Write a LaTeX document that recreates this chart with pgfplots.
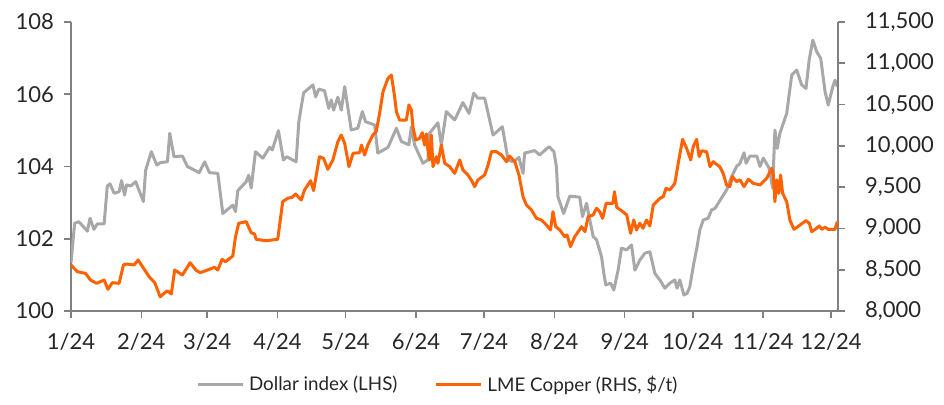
\documentclass[border=0pt]{standalone}
\usepackage{pgfplots}
\usepackage{pgfplotstable}
\pgfplotsset{compat=1.18}
\usepackage{fontspec}
\setmainfont{Lato}
\definecolor{inggray}{HTML}{A8A8A8}
\definecolor{ingorange}{HTML}{FF6200}
\definecolor{axgray}{HTML}{808080}
\definecolor{txt}{HTML}{262626}

\pgfplotstableread{
day dxy
0 101.33
1.6 102.43
3.5 102.47
7.2 102.21
8.4 102.57
10.1 102.26
11.6 102.41
14.6 102.41
16.0 103.46
17.2 103.52
19.0 103.26
21.2 103.30
22.3 103.61
23.6 103.21
24.5 103.49
26.3 103.46
28.5 103.58
31.9 103.03
32.9 103.90
35.4 104.41
37.8 104.04
39.5 104.11
42.5 104.13
43.5 104.92
45.4 104.27
49.1 104.29
51.3 104.00
56.5 103.83
58.9 104.13
61.0 103.83
64.7 103.81
66.9 102.70
71.3 102.93
72.5 102.75
73.5 103.33
77.2 103.58
78.3 103.76
79.4 103.40
81.3 104.41
84.5 104.23
87.5 104.53
88.7 104.46
91.4 104.99
93.6 104.18
95.1 104.27
99.2 104.13
100.4 105.24
102.5 106.04
106.6 106.26
107.8 105.93
109.2 106.14
111.7 106.10
113.6 105.61
114.7 105.84
115.7 105.56
117.6 105.92
119.1 105.56
120.6 106.21
123.5 105.01
126.4 105.06
128.4 105.52
129.8 105.24
133.8 105.15
135.2 104.37
139.7 104.53
143.4 105.06
145.6 104.69
148.9 104.60
150.0 105.10
151.4 104.60
155.1 104.09
157.3 104.18
158.0 104.92
161.7 105.21
163.2 104.60
165.4 105.52
169.1 105.29
172.7 105.77
175.4 105.47
177.5 106.03
179.3 105.89
182.3 105.89
186.0 104.87
190.1 105.10
192.6 104.18
194.8 104.13
197.4 104.25
199.2 103.81
199.9 104.37
204.3 104.44
206.5 104.32
210.7 104.55
212.8 104.41
213.9 104.00
214.6 103.16
217.1 102.70
219.8 103.18
224.2 103.15
225.4 102.61
227.2 102.98
227.9 102.75
230.1 102.06
231.6 101.97
233.8 101.50
234.8 101.04
235.7 100.72
237.8 100.77
239.2 100.58
241.1 101.13
242.6 101.74
244.8 101.69
247.0 101.83
248.5 101.13
250.7 101.41
252.9 101.60
255.1 101.64
257.3 101.04
259.5 100.86
261.7 100.63
263.9 100.77
266.1 100.86
267.1 100.63
268.3 100.86
270.1 100.44
271.5 100.49
272.7 100.67
274.2 101.23
275.9 101.78
277.1 102.24
278.6 102.52
280.8 102.57
282.3 102.80
283.8 102.84
285.2 102.98
288.9 103.35
291.1 103.72
293.3 104.00
294.8 104.09
296.6 104.38
297.5 104.09
299.2 104.29
302.2 104.29
303.6 104.00
305.1 104.23
307.7 103.95
309.2 103.40
310.2 105.01
311.2 104.50
312.4 104.92
315.4 105.47
317.6 106.53
319.8 106.67
322.0 106.26
323.9 106.16
325.3 106.95
326.9 107.50
328.6 107.18
330.4 106.99
332.3 106.07
333.7 105.70
335.7 106.21
336.7 106.39
337.7 106.21
}\dxytable

\pgfplotstableread{
day cu
0 8557
2.8 8476
6.4 8456
8.6 8375
11.3 8335
14.6 8375
16.3 8263
18.2 8343
21.2 8335
23.1 8557
24.5 8569
27.8 8557
29.6 8618
31.5 8537
34.4 8416
36.9 8343
39.3 8173
42.5 8246
44.2 8206
45.7 8497
49.1 8436
52.5 8585
55.0 8497
56.9 8464
59.4 8488
63.2 8529
64.7 8497
66.6 8626
68.1 8597
71.3 8666
72.5 8900
73.9 9062
77.2 9082
79.4 8948
80.9 8932
81.6 8868
86.0 8851
91.1 8868
93.3 9324
95.5 9365
97.5 9377
98.9 9417
101.5 9344
102.9 9465
104.4 9526
105.6 9578
106.9 9457
109.5 9869
111.3 9849
113.2 9716
115.4 9829
117.6 10050
119.1 10131
120.6 10031
122.5 9748
124.3 9910
127.2 9918
128.0 10010
129.4 9889
130.8 10010
133.0 10131
134.5 10172
136.0 10394
137.5 10656
139.7 10818
141.2 10858
142.6 10596
143.4 10414
144.8 10313
147.8 10313
148.9 10495
150.0 10434
150.7 10232
151.9 10071
153.6 10091
154.8 10159
155.8 10010
156.6 10144
157.3 9950
158.0 9829
158.8 10131
159.5 9748
161.0 9869
161.7 9789
163.2 10010
164.7 9789
166.9 9748
169.1 9667
171.3 9829
172.7 9708
174.9 9647
176.4 9587
177.9 9506
179.3 9587
182.3 9647
183.8 9768
185.3 9929
187.5 9929
189.7 9889
191.9 9808
193.3 9877
195.6 9808
197.4 9647
199.2 9384
200.7 9284
202.9 9223
205.1 9123
207.3 9102
209.5 9042
211.3 8981
212.4 9203
213.6 9021
215.4 8981
217.6 8900
218.6 8921
220.1 8779
222.0 8900
225.0 9021
226.5 8961
227.9 9142
230.1 9163
231.6 9244
233.0 9203
234.3 9122
235.8 9304
238.8 9304
239.5 9445
240.5 9256
243.1 9203
244.9 9163
246.6 8941
248.0 9102
249.2 8981
250.7 9062
252.1 9002
253.6 9102
255.1 9030
256.6 9284
259.5 9365
261.0 9384
262.2 9486
263.9 9465
266.1 9546
267.6 9789
269.5 10079
271.3 9970
273.1 9829
274.2 9990
275.7 10079
276.8 9869
277.9 9941
280.1 9929
281.6 9748
283.0 9808
285.9 9748
287.4 9667
288.9 9526
290.3 9506
291.5 9627
293.3 9567
294.8 9587
296.6 9506
298.5 9595
300.7 9546
303.6 9526
306.6 9607
308.8 9728
309.5 9647
310.2 9324
311.0 9587
311.9 9425
312.7 9647
313.6 9425
315.4 9324
316.8 9102
318.6 8989
321.3 9042
323.9 9094
325.4 9062
326.4 8961
328.6 9002
329.8 9030
330.8 8989
332.3 9014
333.7 8989
336.7 8989
337.7 9082
}\cutable

\pgfplotsset{
  base/.style={
    scale only axis, width=383.5pt, height=144.5pt,
    xmin=0, xmax=338,
    tick align=outside, major tick length=3.5pt,
    axis line style={axgray, line width=0.8pt, -},
    tick style={axgray, line width=0.8pt},
    tick label style={font=\fontsize{11}{12}\selectfont, text=txt},
    /pgf/number format/assume math mode=true,
  },
  ll/.style={
    legend image code/.code={\draw[##1] (0pt,0pt) -- (22.5pt,0pt);}
  }
}

\begin{document}
\begin{tikzpicture}
\begin{axis}[base,
  ymin=100, ymax=108,
  axis x line*=bottom, axis y line*=left,
  xtick={0,31,60,91,121,152,182,213,244,274,305,335},
  xticklabels={1/24,2/24,3/24,4/24,5/24,6/24,7/24,8/24,9/24,10/24,11/24,12/24},
  ytick={100,102,104,106,108},
  xticklabel style={yshift=-4pt},
  yticklabel style={xshift=-1.5pt},
]
\addplot[inggray, line width=1.5pt, line join=round] table[x=day, y=dxy] {\dxytable};
\end{axis}
\begin{axis}[base,
  ymin=8000, ymax=11500,
  axis x line=none, axis y line*=right,
  ytick={8000,8500,9000,9500,10000,10500,11000,11500},
  scaled y ticks=false,
  yticklabel style={xshift=6.5pt, /pgf/number format/.cd, fixed, 1000 sep={,}, precision=0},
  legend style={at={(axis description cs:0.48,-0.256)}, anchor=center, draw=none, fill=none,
    legend columns=2, font=\fontsize{9.4}{11}\selectfont, text=txt,
    nodes={inner sep=2.5pt},
    /tikz/every even column/.append style={column sep=16pt}},
  ll,
]
\addlegendimage{inggray, line width=1.5pt}
\addlegendentry{Dollar index (LHS)}
\addplot[ingorange, line width=1.5pt, line join=round] table[x=day, y=cu] {\cutable};
\addlegendentry{LME Copper (RHS, \$/t)}
\end{axis}
\pgfresetboundingbox
\path[use as bounding box] (-35.5pt,-47pt) rectangle (436.5pt,155.5pt);
\end{tikzpicture}
\end{document}
